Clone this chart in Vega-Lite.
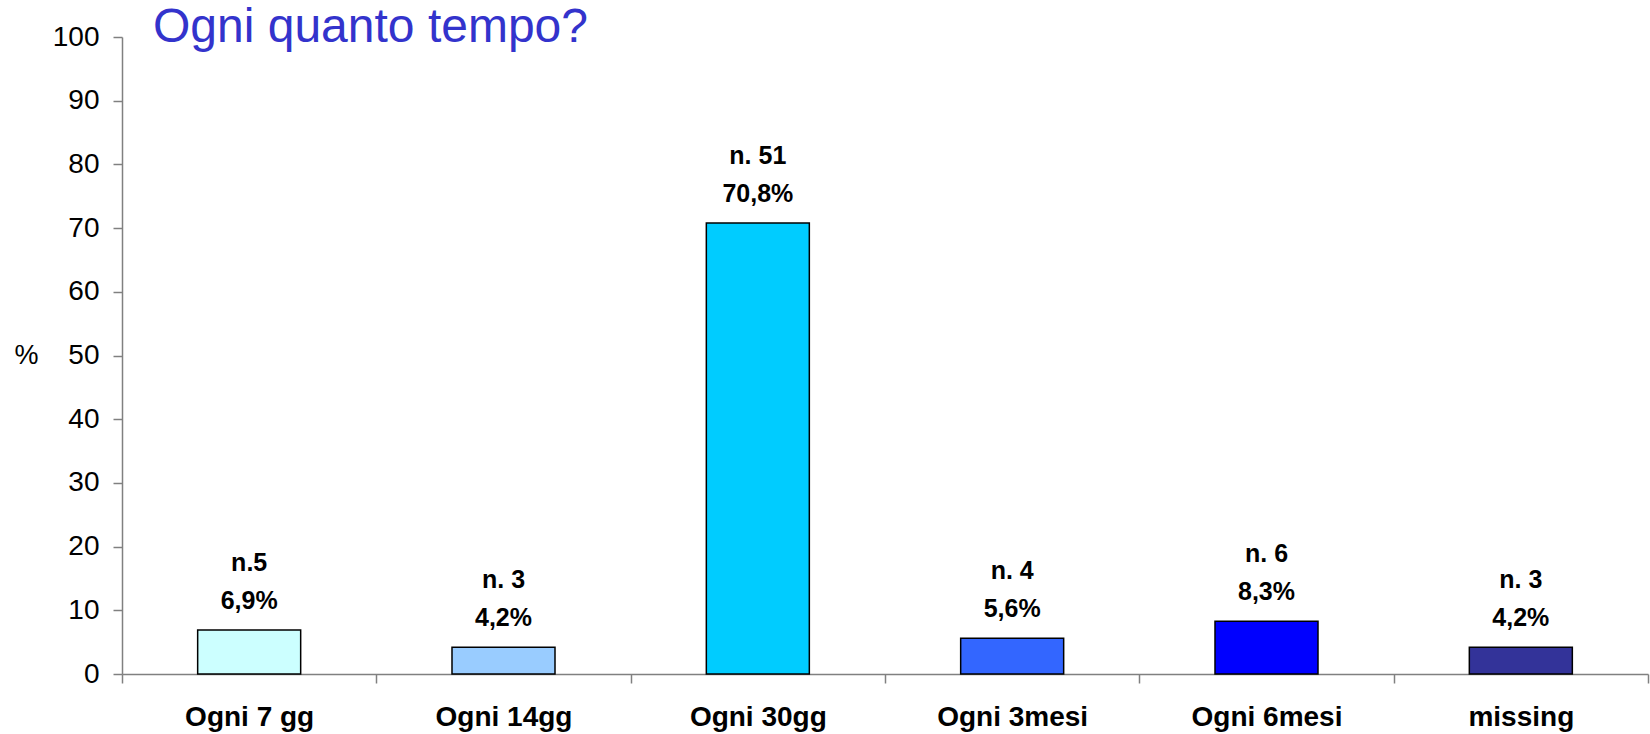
{
  "$schema": "https://vega.github.io/schema/vega-lite/v6.json",
  "width": 1526,
  "height": 637,
  "autosize": {"type": "none"},
  "padding": {"left": 122, "top": 37, "right": 2, "bottom": 60},
  "background": "white",
  "config": {"view": {"stroke": null}, "font": "Liberation Sans"},
  "title": {
    "text": "Ogni quanto tempo?",
    "anchor": "start",
    "frame": "group",
    "orient": "top",
    "baseline": "alphabetic",
    "offset": -67,
    "dx": 31,
    "font": "Liberation Sans",
    "fontSize": 48,
    "fontWeight": "normal",
    "color": "#3333CC"
  },
  "data": {
    "values": [
      {"cat": "Ogni 7 gg", "pct": 6.9, "n": "n.5", "lab": "6,9%"},
      {"cat": "Ogni 14gg", "pct": 4.2, "n": "n. 3", "lab": "4,2%"},
      {"cat": "Ogni 30gg", "pct": 70.8, "n": "n. 51", "lab": "70,8%"},
      {"cat": "Ogni 3mesi", "pct": 5.6, "n": "n. 4", "lab": "5,6%"},
      {"cat": "Ogni 6mesi", "pct": 8.3, "n": "n. 6", "lab": "8,3%"},
      {"cat": "missing", "pct": 4.2, "n": "n. 3", "lab": "4,2%"}
    ]
  },
  "encoding": {
    "x": {
      "field": "cat",
      "type": "nominal",
      "sort": null,
      "scale": {"paddingInner": 0, "paddingOuter": 0},
      "axis": {
        "title": null,
        "labelAngle": 0,
        "labelFont": "Liberation Sans",
        "labelFontSize": 28,
        "labelFontWeight": "bold",
        "labelColor": "black",
        "labelPadding": 20,
        "tickBand": "extent",
        "tickSize": 9,
        "tickColor": "#808080",
        "tickWidth": 1.5,
        "domainColor": "#808080",
        "domainWidth": 1.5
      }
    },
    "y": {
      "field": "pct",
      "type": "quantitative",
      "scale": {"domain": [0, 100], "nice": false},
      "axis": {
        "title": "%",
        "titleAngle": 0,
        "titleFont": "Liberation Sans",
        "titleFontSize": 27,
        "titleFontWeight": "normal",
        "titleColor": "black",
        "titleAnchor": "middle",
        "titleX": -96,
        "titleY": 318,
        "titleBaseline": "middle",
        "titleAlign": "center",
        "values": [0, 10, 20, 30, 40, 50, 60, 70, 80, 90, 100],
        "grid": false,
        "labelFont": "Liberation Sans",
        "labelFontSize": 28,
        "labelColor": "black",
        "labelPadding": 14,
        "tickSize": 9,
        "tickColor": "#808080",
        "tickWidth": 1.5,
        "domainColor": "#808080",
        "domainWidth": 1.5
      }
    }
  },
  "layer": [
    {
      "mark": {"type": "bar", "width": {"band": 0.405}, "stroke": "black", "strokeWidth": 1.5},
      "encoding": {
        "color": {
          "field": "cat",
          "type": "nominal",
          "sort": null,
          "legend": null,
          "scale": {
            "domain": ["Ogni 7 gg", "Ogni 14gg", "Ogni 30gg", "Ogni 3mesi", "Ogni 6mesi", "missing"],
            "range": ["#CCFFFF", "#99CCFF", "#00CCFF", "#3366FF", "#0000FF", "#333399"]
          }
        }
      }
    },
    {
      "mark": {"type": "text", "baseline": "alphabetic", "dy": -21, "fontSize": 25, "fontWeight": "bold", "font": "Liberation Sans", "color": "black"},
      "encoding": {"text": {"field": "lab"}}
    },
    {
      "mark": {"type": "text", "baseline": "alphabetic", "dy": -59, "fontSize": 25, "fontWeight": "bold", "font": "Liberation Sans", "color": "black"},
      "encoding": {"text": {"field": "n"}}
    }
  ]
}
